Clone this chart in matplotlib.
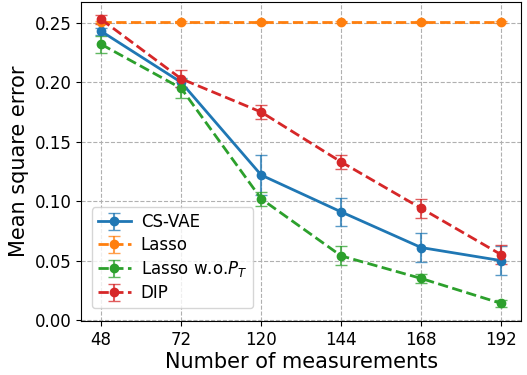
import numpy as np
import matplotlib
matplotlib.use("Agg")
import matplotlib.pyplot as plt

measurements = ["48", "72", "120", "144", "168", "192"]

csvae = [0.243, 0.200, 0.122, 0.091, 0.061, 0.050]
csvae_err = [0.003, 0.004, 0.017, 0.012, 0.012, 0.012]

lasso = [0.251, 0.251, 0.251, 0.251, 0.251, 0.251]
lasso_err = [0.001, 0.001, 0.001, 0.001, 0.001, 0.001]

lasso_wo = [0.232, 0.195, 0.102, 0.054, 0.035, 0.014]
lasso_wo_err = [0.007, 0.008, 0.006, 0.008, 0.004, 0.003]

dip = [0.253, 0.203, 0.175, 0.133, 0.094, 0.055]
dip_err = [0.004, 0.007, 0.006, 0.006, 0.008, 0.008]

x = np.arange(len(measurements))

fig, ax = plt.subplots(figsize=(5.27, 3.75), dpi=100)

kw = dict(marker='o', markersize=6, linewidth=2, capsize=4, elinewidth=1.5)
series = [
    (csvae, csvae_err, 'C0', '-', 'CS-VAE'),
    (lasso, lasso_err, 'C1', '--', 'Lasso'),
    (lasso_wo, lasso_wo_err, 'C2', '--', 'Lasso w.o.$P_T$'),
    (dip, dip_err, 'C3', '--', 'DIP'),
]
for y, err, c, ls, lab in series:
    cont = ax.errorbar(x, y, yerr=err, color=c, linestyle=ls, label=lab, **kw)
    # error bars look a bit faded in the original
    for cap in cont[1]:
        cap.set_alpha(0.75)
    for bar in cont[2]:
        bar.set_alpha(0.75)

ax.set_xticks(x)
ax.set_xticklabels(measurements)
ax.set_yticks([0.0, 0.05, 0.10, 0.15, 0.20, 0.25])
ax.set_ylim(-0.0008, 0.2677)
ax.tick_params(labelsize=12)
ax.set_xlabel('Number of measurements', fontsize=15, labelpad=2)
ax.set_ylabel('Mean square error', fontsize=15)
ax.grid(True, linestyle='--', color='#b0b0b0', linewidth=0.8)
ax.legend(loc='lower left', fontsize=12, borderpad=0.35, handletextpad=0.6,
          labelspacing=0.3, bbox_to_anchor=(0.005, 0.015))

fig.subplots_adjust(left=0.154, right=0.989, top=0.995, bottom=0.144)
fig.savefig('out.png')
